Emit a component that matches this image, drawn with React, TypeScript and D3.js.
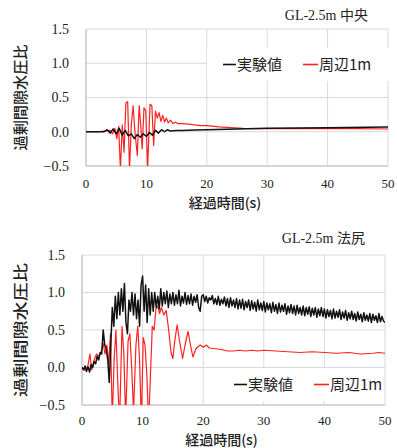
import * as d3 from 'd3'

// axes / labels
const X_TICKS = [0, 10, 20, 30, 40, 50]
const Y_TICKS = [-0.5, 0, 0.5, 1.0, 1.5]
const SERIES_NAMES = ['実験値', '周辺1m']
const TITLES = ['GL-2.5m 中央', 'GL-2.5m 法尻']
const X_LABEL = '経過時間(s)'
const Y_LABEL = '過剰間隙水圧比'

// GL-2.5m center: [time(s), ratio]
const TOP_EXP: [number, number][] = [
  [0, 0], [3, 0.0], [3.5, 0.03], [4, -0.02], [4.5, 0.04], [5, -0.03], [5.5, 0.05], [6, -0.05],
  [6.5, 0.02], [7, -0.06], [7.5, -0.03], [8, -0.1], [8.5, -0.04], [9, -0.08], [9.5, -0.03],
  [10, -0.07], [10.5, -0.01], [11, -0.05], [11.5, 0.02], [12, -0.02], [12.5, 0.03], [13, 0.0],
  [13.5, 0.03], [14, 0.01], [15, 0.02], [16, 0.02], [18, 0.025], [20, 0.03], [25, 0.04],
  [30, 0.05], [40, 0.06], [50, 0.07],
]
const TOP_SIM: [number, number][] = [
  [0, 0], [2, 0], [3, 0.01], [4, 0.02], [4.4, -0.03], [4.8, 0.05], [5.1, -0.1], [5.4, 0.08],
  [5.7, -0.55], [6.0, 0.1], [6.3, -0.3], [6.6, 0.42], [6.9, 0.44], [7.2, -0.55], [7.5, 0.1],
  [7.8, 0.38], [8.1, 0.0], [8.5, -0.35], [8.8, 0.38], [9.1, 0.05], [9.3, -0.25], [9.6, 0.35],
  [9.9, 0.3], [10.2, -0.55], [10.6, 0.4], [10.9, 0.38], [11.2, -0.2], [11.5, 0.3], [11.8, 0.2],
  [12.1, 0.28], [12.4, 0.15], [12.7, 0.24], [13, 0.14], [13.3, 0.2], [13.6, 0.13], [14, 0.17],
  [14.4, 0.12], [14.8, 0.14], [15.2, 0.12], [16, 0.12], [17, 0.11], [18, 0.1], [19, 0.09],
  [20, 0.09], [22, 0.07], [24, 0.06], [26, 0.05], [28, 0.045], [30, 0.045], [35, 0.045],
  [40, 0.045], [45, 0.045], [50, 0.04],
]

// GL-2.5m toe: measured, sampled every 0.25 s
const BOT_EXP_DT = 0.25
const BOT_EXP = [
  0, -0.03, 0.02, -0.05, 0.01, -0.06, 0.04, 0.0, 0.08, 0.05, 0.15, 0.1, 0.2, 0.18, 0.5, 0.3, 0.25, 0.1, -0.2, 0.3,
  0.8, 0.55, 0.95, 0.65, 1.0, 0.7, 1.05, 0.75, 1.12, 0.6, 0.45, 0.9, 0.75, 1.0, 0.7, 0.98, 0.65, 0.9, 0.55, 1.1,
  1.22, 0.75, 1.1, 0.6, 1.05, 0.7, 1.0, 0.75, 1.0, 0.8, 0.95, 0.78, 1.05, 0.82, 1.0, 0.85, 1.02, 0.8, 0.98, 0.85,
  1.0, 0.83, 0.97, 0.85, 1.03, 0.82, 0.95, 0.86, 1.0, 0.84, 0.96, 0.85, 0.98, 0.83, 0.95, 0.87, 0.97, 0.8, 0.75, 0.95,
  0.97, 0.88, 0.95, 0.86, 0.93, 0.9, 0.96, 0.85, 0.92, 0.84, 0.95, 0.83, 0.91, 0.85, 0.94, 0.82, 0.92, 0.8, 0.93, 0.82,
  0.9, 0.8, 0.92, 0.78, 0.9, 0.79, 0.91, 0.77, 0.88, 0.8, 0.9, 0.76, 0.89, 0.78, 0.87, 0.75, 0.9, 0.77, 0.86, 0.76,
  0.88, 0.74, 0.86, 0.77, 0.85, 0.73, 0.87, 0.75, 0.84, 0.72, 0.86, 0.74, 0.83, 0.75, 0.85, 0.71, 0.82, 0.73, 0.84, 0.72,
  0.82, 0.7, 0.83, 0.72, 0.8, 0.7, 0.82, 0.69, 0.8, 0.71, 0.81, 0.68, 0.79, 0.7, 0.8, 0.67, 0.78, 0.69, 0.8, 0.68,
  0.78, 0.66, 0.77, 0.68, 0.76, 0.65, 0.78, 0.66, 0.75, 0.67, 0.77, 0.64, 0.74, 0.66, 0.76, 0.63, 0.73, 0.65, 0.75, 0.64,
  0.72, 0.62, 0.74, 0.64, 0.71, 0.61, 0.73, 0.63, 0.7, 0.62, 0.72, 0.6, 0.71, 0.63, 0.69, 0.6, 0.72, 0.61, 0.68, 0.62, 0.6,
]
const BOT_SIM: [number, number][] = [
  [0, 0], [0.5, -0.04], [1.0, 0.03], [1.3, 0.18], [1.6, -0.03], [2.0, 0.1], [2.4, 0.18], [2.8, 0.15],
  [3.2, 0.22], [3.5, 0.32], [3.8, 0.18], [4.1, 0.3], [4.4, 0.05], [4.7, 0.45], [5.0, -0.7], [5.3, 0.1],
  [5.6, 0.5], [5.9, -0.2], [6.2, -0.75], [6.6, 0.55], [6.9, 0.2], [7.2, -0.7], [7.6, 0.35], [7.9, 0.45],
  [8.2, 0.0], [8.5, -0.6], [8.9, 0.3], [9.2, 0.55], [9.5, 0.1], [9.8, -0.75], [10.1, 0.4], [10.4, 0.3],
  [10.7, -0.1], [11.0, -0.75], [11.3, -0.1], [11.6, 0.55], [11.9, 0.5], [12.2, 0.78], [12.5, 0.82],
  [12.8, 0.72], [13.1, 0.8], [13.5, 0.7], [13.9, 0.76], [14.3, 0.5], [14.7, 0.2], [15.0, 0.12],
  [15.3, 0.35], [15.7, 0.57], [16.1, 0.35], [16.6, 0.12], [17.0, 0.3], [17.5, 0.48], [17.9, 0.3],
  [18.3, 0.14], [18.8, 0.25], [19.5, 0.3], [20.0, 0.27], [20.5, 0.3], [21, 0.26], [22, 0.25], [23, 0.24],
  [24, 0.22], [25, 0.22], [26, 0.23], [27, 0.22], [28, 0.23], [29, 0.22], [30, 0.23], [32, 0.22],
  [34, 0.21], [36, 0.2], [38, 0.21], [40, 0.2], [42, 0.19], [44, 0.2], [46, 0.18], [48, 0.19],
  [49, 0.2], [50, 0.19],
]

const SERIF = '"Liberation Serif", "Times New Roman", "Noto Sans CJK JP", serif'
const GOTHIC = '"Noto Sans CJK JP", sans-serif'
const GRID = '#d9d9d9'

type Box = { left: number; right: number; top: number; bottom: number }

function Panel({ id, plot, title, titleY, exp, sim, legend, tickGap, xLabelY, yLabelLen }: {
  id: string
  plot: Box
  title: string
  titleY: number
  exp: [number, number][]
  sim: [number, number][]
  legend: { x: number; y: number; w: number; h: number }
  tickGap: number
  xLabelY: number
  yLabelLen: number
}) {
  const x = d3.scaleLinear().domain([0, 50]).range([plot.left, plot.right])
  const y = d3.scaleLinear().domain([-0.5, 1.5]).range([plot.bottom, plot.top])
  const line = d3.line<[number, number]>().x((d) => x(d[0])).y((d) => y(d[1]))
  const midY = (plot.top + plot.bottom) / 2
  const lx = legend.x
  const ly = legend.y + legend.h / 2

  return (
    <g>
      <defs>
        <clipPath id={id}>
          <rect x={plot.left} y={plot.top} width={plot.right - plot.left} height={plot.bottom - plot.top} />
        </clipPath>
      </defs>
      {/* grid */}
      {Y_TICKS.map((t) => (
        <line key={'h' + t} x1={plot.left} x2={plot.right} y1={y(t)} y2={y(t)} stroke={GRID} strokeWidth={1} />
      ))}
      {X_TICKS.map((t) => (
        <line key={'v' + t} x1={x(t)} x2={x(t)} y1={plot.top} y2={plot.bottom} stroke={GRID} strokeWidth={1} />
      ))}
      <line x1={plot.left} x2={plot.left} y1={plot.top} y2={plot.bottom} stroke="#bfbfbf" />
      <line x1={plot.left} x2={plot.right} y1={plot.bottom} y2={plot.bottom} stroke="#bfbfbf" />

      {/* legend box hides grid */}
      <rect x={legend.x} y={legend.y} width={legend.w} height={legend.h} fill="#fff" />

      <g clipPath={`url(#${id})`}>
        <path d={line(sim) ?? ''} fill="none" stroke="#ff2020" strokeWidth={1.2} strokeLinejoin="round" />
        <path d={line(exp) ?? ''} fill="none" stroke="#111" strokeWidth={1.5} strokeLinejoin="round" />
      </g>

      {/* legend */}
      <line x1={lx + 16} x2={lx + 29} y1={ly} y2={ly} stroke="#111" strokeWidth={1.6} />
      <text x={lx + 30} y={ly} dy="0.36em" fontFamily={GOTHIC} fontSize={15} fill="#222">
        {SERIES_NAMES[0]}
      </text>
      <line x1={lx + 96} x2={lx + 111} y1={ly} y2={ly} stroke="#ff2020" strokeWidth={1.6} />
      <text x={lx + 112} y={ly} dy="0.36em" fontFamily={GOTHIC} fontSize={15} fill="#222">
        {SERIES_NAMES[1]}
      </text>

      {/* ticks */}
      {Y_TICKS.map((t) => (
        <text key={'yl' + t} x={plot.left - 17} y={y(t)} dy="0.35em" textAnchor="end" fontFamily={SERIF} fontSize={14} fill="#222">
          {d3.format('.1f')(t)}
        </text>
      ))}
      {X_TICKS.map((t) => (
        <text key={'xl' + t} x={x(t)} y={plot.bottom + tickGap} dy="0.35em" textAnchor="middle" fontFamily={SERIF} fontSize={13} fill="#222">
          {t}
        </text>
      ))}

      <text x={plot.right - 20} y={titleY} dy="0.35em" textAnchor="end" fontFamily={SERIF} fontSize={14} fill="#222">
        {title}
      </text>
      <text x={(plot.left + plot.right) / 2 - 12} y={xLabelY} dy="0.35em" textAnchor="middle" fontFamily={GOTHIC} fontSize={14} fontWeight={500} fill="#222">
        {X_LABEL}
      </text>
      <text
        transform={`translate(21,${midY}) rotate(-90)`}
        dy="0.35em"
        textAnchor="middle"
        fontFamily={GOTHIC}
        fontSize={15}
        fontWeight={500}
        fill="#222"
        textLength={yLabelLen}
        lengthAdjust="spacingAndGlyphs"
      >
        {Y_LABEL}
      </text>
    </g>
  )
}

export default function App() {
  const botExp: [number, number][] = BOT_EXP.map((v, i) => [i * BOT_EXP_DT, v])
  return (
    <svg width={397} height={448} style={{ position: 'absolute', left: 0, top: 0, background: '#fff' }}>
      <rect width={397} height={448} fill="#fff" />
      <Panel
        id="clipTop"
        plot={{ left: 86, right: 388, top: 29, bottom: 166 }}
        title={TITLES[0]}
        titleY={15}
        exp={TOP_EXP}
        sim={TOP_SIM}
        legend={{ x: 207, y: 48, w: 182, h: 33 }}
        tickGap={17}
        xLabelY={203}
        yLabelLen={106}
      />
      <Panel
        id="clipBot"
        plot={{ left: 82, right: 385, top: 255, bottom: 405 }}
        title={TITLES[1]}
        titleY={238}
        exp={botExp}
        sim={BOT_SIM}
        legend={{ x: 218, y: 368, w: 166, h: 33 }}
        tickGap={15}
        xLabelY={440}
        yLabelLen={134}
      />
    </svg>
  )
}
